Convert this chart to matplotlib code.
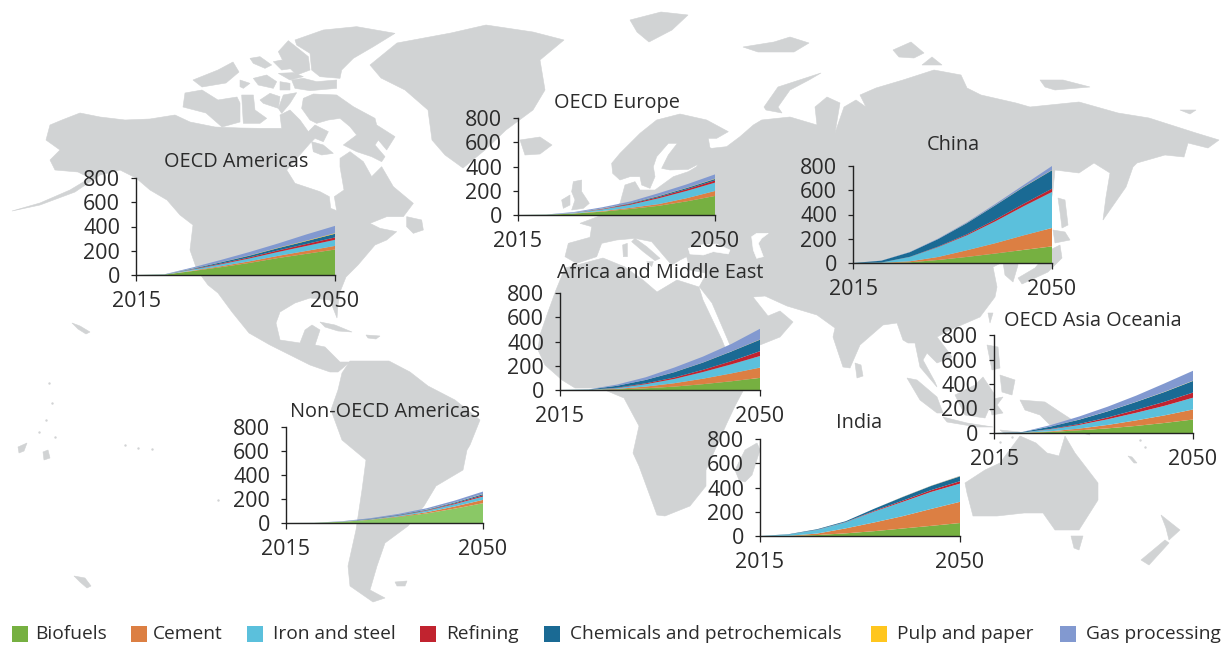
import matplotlib
matplotlib.use("Agg")
import matplotlib.pyplot as plt
from matplotlib.patches import Polygon, Rectangle

W, H = 1221, 646
LAND = "#d1d3d4"
INK = "#2b2b2b"
plt.rcParams["font.family"] = ["Open Sans", "DejaVu Sans"]

years = [2015, 2020, 2025, 2030, 2035, 2040, 2045, 2050]
series = ["Biofuels", "Cement", "Iron and steel", "Refining",
          "Chemicals and petrochemicals", "Pulp and paper", "Gas processing"]
colors = ["#76b041", "#dc7f43", "#5bc0dc", "#c1232f", "#1a6a94", "#ffc61e", "#8299d0"]

# rows follow the order of series
oecd_americas = [
    [0, 3, 33, 65, 100, 140, 175, 210],
    [0, 0, 4, 8, 13, 18, 24, 30],
    [0, 1, 8, 16, 24, 32, 41, 50],
    [0, 0, 3, 6, 9, 13, 16, 20],
    [0, 1, 5, 10, 14, 19, 24, 30],
    [0, 0, 1, 1, 2, 3, 4, 5],
    [0, 1, 9, 19, 28, 35, 51, 60],
]
oecd_europe = [
    [0, 2, 12, 28, 50, 76, 113, 157],
    [0, 0, 2, 5, 9, 14, 26, 41],
    [0, 1, 4, 13, 26, 48, 60, 69],
    [0, 0, 1, 4, 7, 10, 14, 18],
    [0, 0, 1, 3, 5, 8, 10, 12],
    [0, 0, 0, 1, 1, 2, 2, 3],
    [0, 1, 5, 10, 14, 22, 28, 35],
]
china = [
    [0, 1, 6, 25, 50, 78, 108, 137],
    [0, 1, 8, 25, 55, 85, 120, 152],
    [0, 2, 36, 82, 123, 180, 240, 297],
    [0, 0, 1, 4, 8, 14, 20, 27],
    [0, 15, 38, 62, 92, 118, 138, 152],
    [0, 0, 0, 0, 1, 1, 2, 2],
    [0, 1, 2, 4, 6, 10, 15, 33],
]
africa_me = [
    [0, 1, 5, 14, 28, 48, 72, 100],
    [0, 0, 4, 14, 28, 45, 65, 85],
    [0, 1, 7, 20, 35, 55, 75, 95],
    [0, 0, 3, 7, 12, 18, 26, 40],
    [0, 2, 16, 28, 44, 60, 80, 95],
    [0, 0, 0, 0, 1, 1, 1, 2],
    [0, 1, 10, 22, 37, 48, 61, 88],
]
asia_oceania = [
    [0, 1, 9, 22, 38, 58, 82, 110],
    [0, 1, 5, 14, 28, 45, 62, 82],
    [0, 2, 16, 30, 46, 62, 78, 96],
    [0, 0, 3, 8, 15, 24, 33, 42],
    [0, 4, 20, 35, 50, 65, 80, 95],
    [0, 0, 0, 1, 1, 1, 2, 2],
    [0, 1, 12, 25, 37, 50, 68, 81],
]
non_oecd_americas = [
    [0, 1, 10, 26, 50, 80, 120, 165],
    [0, 0, 1, 2, 5, 10, 18, 28],
    [0, 0, 1, 3, 7, 12, 19, 27],
    [0, 0, 0, 1, 2, 4, 7, 10],
    [0, 0, 1, 3, 4, 5, 7, 10],
    [0, 0, 0, 0, 0, 1, 1, 2],
    [0, 1, 2, 5, 8, 11, 15, 20],
]
india = [
    [0, 1, 8, 22, 40, 62, 84, 107],
    [0, 1, 12, 41, 72, 102, 140, 175],
    [0, 10, 30, 50, 90, 118, 140, 150],
    [0, 0, 1, 2, 6, 10, 15, 20],
    [0, 3, 5, 7, 17, 30, 35, 40],
    [0, 0, 0, 0, 0, 1, 1, 2],
    [0, 0, 0, 0, 0, 1, 1, 2],
]

# inset frames in pixels: left, right, y of 800, y of 0, title centre
insets = [
    ("OECD Americas", oecd_americas, (136, 335, 178, 275), (236, 162), colors[0]),
    ("OECD Europe", oecd_europe, (518, 715, 118, 215), (617, 103), colors[0]),
    ("China", china, (853, 1052, 166, 263), (953, 145), colors[0]),
    ("Africa and Middle East", africa_me, (560, 760, 293, 390), (660, 273), colors[0]),
    ("OECD Asia Oceania", asia_oceania, (994, 1193, 335, 433), (1093, 321), colors[0]),
    ("Non-OECD Americas", non_oecd_americas, (286, 483, 427, 523), (385, 412), "#8ac866"),
    ("India", india, (760, 960, 439, 536), (859, 423), colors[0]),
]

legend_pos = [(12, 35), (131, 153), (247, 273), (420, 446), (544, 570), (871, 897), (1060, 1086)]


def z5(pts):
    return [(540 + x / 3, 110 + y / 3) for x, y in pts]


def z7(pts):
    return [(240 + x / 3, 20 + y / 3) for x, y in pts]


north_america = [
    (50, 125), (62, 120), (80, 113), (100, 117), (125, 120), (150, 119), (175, 115), (190, 122),
    (215, 127), (240, 128)
] + z7([
    (60, 325), (125, 325), (120, 285), (150, 270), (180, 300), (205, 335), (225, 315), (265, 335),
    (250, 365), (225, 355), (210, 370), (140, 450), (165, 490), (240, 515), (268, 530), (272, 565),
    (290, 572), (283, 530), (312, 510), (300, 440), (300, 415), (330, 395), (370, 425), (395, 470),
    (425, 440), (460, 500), (520, 550), (490, 590), (440, 590), (390, 610), (420, 625), (470, 635),
    (440, 660),
]) + [
    (375, 245), (358, 265), (346, 277), (340, 292), (338, 305), (337, 318), (330, 300), (310, 298),
    (295, 303), (280, 312), (276, 323), (280, 340), (300, 343), (305, 330), (312, 325), (320, 330),
    (315, 345), (325, 347), (340, 362), (350, 362), (338, 372), (330, 372), (310, 365), (290, 355),
    (270, 345), (249, 333), (232, 312), (218, 293), (208, 285), (197, 270), (190, 250), (193, 225),
    (180, 215), (167, 200), (150, 190), (136, 178), (120, 170), (100, 175), (75, 192), (40, 205),
    (12, 211), (40, 203), (70, 190), (90, 178), (78, 172), (55, 170), (50, 160), (60, 150), (46, 140),
]

south_america = [
    (350, 361), (389, 361), (410, 372), (428, 386), (455, 400), (480, 420), (470, 445), (467, 450),
    (463, 470), (436, 486), (424, 506), (408, 526), (385, 543), (377, 566), (370, 590), (385, 598),
    (373, 602), (350, 586), (348, 566), (356, 530), (362, 490), (366, 460), (342, 440), (331, 410),
    (338, 390), (342, 373),
]

greenland = [
    (370, 65), (397, 43), (451, 33), (486, 25), (533, 32), (564, 40), (540, 60), (545, 90),
    (533, 110), (506, 130), (485, 150), (463, 168), (445, 155), (432, 140), (428, 110), (405, 90),
    (381, 78),
]

eurasia = z5([
    (75, 440), (85, 400), (150, 382), (155, 350), (120, 340), (200, 310), (240, 280), (255, 225),
    (285, 215), (300, 240), (345, 240), (400, 200), (445, 185), (470, 170), (500, 110), (515, 115),
    (560, 110), (600, 80), (640, 45), (665, 30),
]) + [
    (790, 117), (817, 125), (815, 107), (827, 97), (840, 103), (835, 133), (844, 107), (856, 100),
    (866, 107), (860, 95), (876, 88), (903, 80), (934, 70), (961, 75), (967, 88), (981, 95),
    (1016, 103), (1030, 107), (1079, 102), (1118, 113), (1149, 118), (1196, 133), (1219, 140),
    (1208, 148), (1188, 143), (1184, 157), (1165, 155), (1137, 163), (1133, 167), (1126, 187),
    (1103, 220), (1106, 197), (1110, 173), (1094, 163), (1079, 173), (1055, 170), (1053, 190),
    (1049, 213), (1045, 230), (1032, 243), (1016, 250), (1018, 265), (1013, 282), (1005, 275),
    (1003, 262), (993, 267), (997, 287), (995, 297), (980, 317), (950, 330), (937, 337), (947, 350),
    (952, 357), (937, 363), (927, 353), (923, 360), (935, 382), (937, 387), (920, 367), (915, 343),
    (908, 343), (903, 340), (897, 323), (883, 325), (860, 345), (850, 368), (843, 367), (833, 337),
    (835, 328), (817, 315), (787, 306), (765, 296), (753, 297), (768, 316), (780, 311), (793, 322),
    (780, 337), (760, 345), (735, 357), (727, 338), (712, 303),
] + z5([
    (478, 530), (500, 490), (450, 480), (440, 440), (420, 450), (395, 465), (335, 395), (285, 385),
    (230, 390), (185, 400), (170, 440), (110, 460),
])

scandinavia = z5([
    (215, 160), (240, 130), (300, 70), (350, 30), (420, 12), (500, 30), (565, 65), (530, 85),
    (505, 85), (510, 115), (480, 160), (445, 178), (390, 180), (365, 175), (385, 135), (412, 100),
    (385, 100), (350, 140), (340, 170), (345, 200), (330, 235), (305, 225), (300, 200), (270, 200),
    (240, 210), (218, 190),
])

africa = [
    (577, 265), (565, 268), (556, 290), (548, 312), (540, 335), (538, 350), (545, 365), (562, 380),
    (575, 388), (600, 388), (624, 398), (639, 426), (633, 453), (639, 466), (657, 515), (665, 516),
    (690, 506), (706, 486), (706, 470), (727, 423), (735, 406), (743, 391), (757, 368), (757, 358),
    (730, 360), (722, 340), (703, 300), (699, 287), (677, 280), (657, 292), (643, 280), (633, 273),
    (625, 267), (603, 258),
]

australia = [
    (965, 483), (985, 470), (1000, 463), (1020, 436), (1036, 443), (1047, 453), (1059, 456),
    (1065, 436), (1075, 453), (1098, 483), (1098, 500), (1079, 530), (1055, 530), (1043, 513),
    (1024, 513), (997, 516), (973, 516), (967, 493),
]

islands = [
    # arctic canada
    z7([(165, 60), (250, 30), (350, 20), (465, 40), (400, 80), (340, 115), (305, 150), (300, 175),
        (240, 170), (215, 150), (210, 100), (170, 75)]),
    z7([(115, 95), (145, 62), (180, 90), (205, 110), (210, 150), (170, 165), (130, 125)]),
    z7([(100, 125), (125, 120), (160, 145), (125, 150)]),
    z7([(30, 115), (60, 110), (95, 135), (75, 145), (40, 130)]),
    z7([(190, 175), (230, 185), (290, 180), (290, 205), (210, 212), (165, 205), (155, 180)]),
    z7([(115, 160), (160, 158), (190, 170), (150, 180)]),
    z7([(40, 175), (80, 165), (110, 185), (100, 205), (55, 195)]),
    z7([(0, 180), (30, 190), (10, 205), (0, 200)]),
    z7([(120, 185), (150, 190), (150, 210), (120, 210)]),
    z7([(60, 240), (90, 220), (120, 230), (115, 265), (70, 250)]),
    z7([(130, 225), (170, 218), (150, 250), (125, 280), (115, 265)]),
    z7([(5, 225), (40, 225), (45, 270), (80, 295), (60, 310), (10, 310)]),
    z7([(190, 235), (220, 222), (290, 225), (340, 260), (405, 295), (410, 315), (465, 350), (440, 390),
        (415, 360), (405, 375), (435, 410), (425, 425), (395, 410), (350, 395), (310, 375), (350, 345),
        (330, 320), (300, 295), (265, 300), (230, 310), (210, 300), (185, 265)]),
    z7([(215, 365), (250, 375), (280, 400), (245, 405), (220, 395)]),
    z7([(500, 590), (545, 600), (550, 630), (520, 640), (500, 620)]),
    [(193, 80), (218, 70), (233, 62), (239, 72), (226, 83), (202, 87)],
    [(185, 93), (202, 90), (218, 100), (237, 97), (240, 103), (240, 122), (222, 127), (206, 113), (183, 107)],
    # north atlantic and europe
    [(520, 140), (540, 137), (552, 145), (540, 154), (525, 155)],
    z5([(100, 215), (125, 210), (125, 245), (148, 280), (130, 295), (95, 300), (105, 270), (95, 245)]),
    z5([(65, 270), (90, 255), (90, 285), (70, 295)]),
    z5([(285, 385), (320, 410), (360, 445), (345, 452), (310, 425), (275, 395)]),
    z5([(320, 455), (340, 455), (335, 470)]),
    z5([(248, 405), (262, 400), (262, 440), (250, 440)]),
    # russian arctic
    [(630, 20), (661, 12), (688, 15), (672, 30), (649, 42), (637, 32)],
    [(743, 47), (774, 42), (790, 37), (809, 43), (794, 52), (758, 52)],
    [(764, 107), (778, 87), (821, 73), (809, 80), (790, 90), (778, 107), (782, 113), (766, 110)],
    [(893, 50), (911, 42), (924, 53), (914, 58), (899, 57)],
    [(922, 65), (932, 57), (942, 65)],
    [(1040, 80), (1063, 80), (1090, 87), (1055, 90), (1045, 87)],
    [(1180, 110), (1196, 110), (1190, 114)],
    # east and south east asia
    [(1058, 198), (1065, 200), (1068, 225), (1062, 228), (1060, 212)],
    [(1053, 230), (1065, 232), (1070, 240), (1055, 243)],
    [(1050, 250), (1060, 245), (1062, 258), (1048, 272), (1022, 284), (1018, 278), (1035, 268)],
    [(988, 313), (993, 313), (990, 323)],
    [(855, 363), (861, 365), (863, 376), (857, 378)],
    [(907, 378), (917, 380), (937, 397), (943, 413), (937, 413), (920, 400)],
    [(943, 417), (967, 423), (993, 427), (977, 427), (947, 422)],
    [(955, 395), (975, 385), (983, 377), (995, 395), (985, 418), (965, 415)],
    [(988, 400), (1003, 397), (997, 405), (1003, 413), (992, 415)],
    [(987, 345), (998, 347), (1000, 368), (992, 370)],
    [(1000, 375), (1015, 380), (1012, 395), (1002, 392)],
    [(1020, 400), (1045, 402), (1060, 412), (1080, 425), (1090, 435), (1070, 430), (1050, 425),
     (1040, 415), (1025, 410)],
    [(1000, 430), (1020, 432), (1005, 434)],
    # southern hemisphere
    [(739, 480), (735, 470), (745, 450), (757, 443), (760, 450), (752, 475), (745, 482)],
    [(1071, 536), (1083, 536), (1079, 550), (1074, 548)],
    [(1161, 515), (1180, 530), (1169, 540), (1166, 528)],
    [(1141, 560), (1165, 540), (1169, 543), (1149, 565)],
    [(395, 582), (407, 581), (405, 586), (397, 586)],
    [(1128, 456), (1132, 457), (1137, 463), (1134, 463)],
    # caribbean and pacific
    [(320, 322), (335, 325), (352, 332), (338, 331), (325, 327)],
    [(366, 335), (380, 336), (376, 339), (368, 338)],
    [(72, 323), (80, 326), (90, 332), (86, 334), (78, 329)],
    [(74, 576), (85, 578), (91, 586), (87, 588), (80, 582)],
    [(18, 447), (27, 443), (24, 451), (19, 453)],
    [(43, 452), (48, 450), (50, 458), (44, 460)],
]

seas = [
    z5([(445, 415), (480, 405), (530, 402), (570, 420), (565, 432), (520, 425), (490, 435), (450, 432)]),
    z5([(635, 380), (650, 370), (685, 370), (665, 385), (655, 400), (670, 440), (650, 445), (640, 420)]),
]

# tiny pacific and indonesian islets
specks_x = [49, 52, 46, 55, 39, 125, 138, 152, 218, 1140, 1145, 1000, 1012, 1025]
specks_y = [383, 403, 420, 437, 432, 445, 448, 449, 500, 440, 447, 442, 437, 440]

fig = plt.figure(figsize=(W / 100, H / 100), dpi=100)
bg = fig.add_axes([0, 0, 1, 1])
bg.set_xlim(0, W)
bg.set_ylim(H, 0)
bg.axis("off")

for shape in [north_america, south_america, greenland, eurasia, scandinavia, africa, australia] + islands:
    bg.add_patch(Polygon(shape, closed=True, fc=LAND, ec=LAND, lw=0.4))
for shape in seas:
    bg.add_patch(Polygon(shape, closed=True, fc="white", ec="white", lw=0.4))
bg.scatter(specks_x, specks_y, s=3, c=LAND, linewidths=0)

for name, values, (x0, x1, y800, y0), (tx, ty), first_color in insets:
    ax = fig.add_axes([x0 / W, 1 - y0 / H, (x1 - x0) / W, (y0 - y800) / H])
    ax.patch.set_alpha(0)
    ax.stackplot(years, *values, colors=[first_color] + colors[1:], lw=0)
    ax.set_xlim(2015, 2050)
    ax.set_ylim(0, 800)
    ax.set_xticks([2015, 2050])
    ax.set_yticks([0, 200, 400, 600, 800])
    for side in ["top", "right"]:
        ax.spines[side].set_visible(False)
    for side in ["left", "bottom"]:
        ax.spines[side].set_linewidth(1.0)
        ax.spines[side].set_color("#222222")
    ax.tick_params(axis="y", length=3.5, width=0.9, color="#222222", labelsize=15.5, labelcolor=INK, pad=8)
    ax.tick_params(axis="x", length=4.5, width=0.9, color="#222222", labelsize=15.5, labelcolor=INK, pad=7)
    bg.text(tx, ty, name, ha="center", va="center", fontsize=14.3, color=INK)

for label, color, (sx, tx) in zip(series, colors, legend_pos):
    bg.add_patch(Rectangle((sx, 626), 16, 16, fc=color, ec="none"))
    bg.text(tx, 634, label, ha="left", va="center", fontsize=13.8, color=INK)

fig.savefig("out.png", dpi=100)
